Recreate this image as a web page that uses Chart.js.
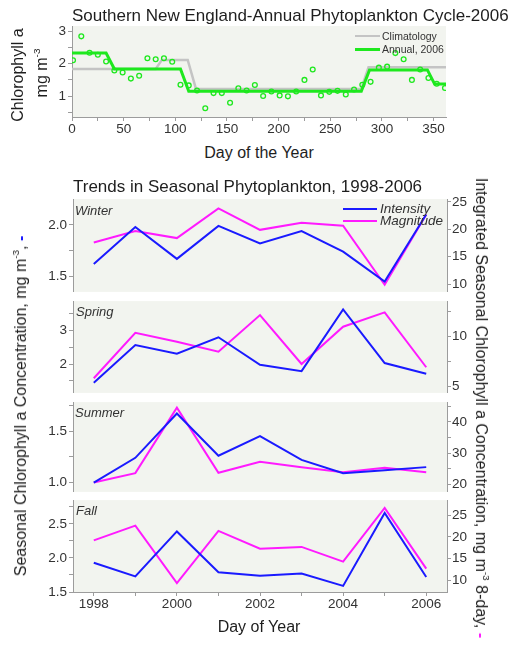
<!DOCTYPE html>
<html>
<head>
<meta charset="utf-8">
<title>Southern New England Phytoplankton</title>
<script src="https://cdn.jsdelivr.net/npm/chart.js@4.4.1/dist/chart.umd.min.js"></script>
<style>
  body { margin: 0; background: #fff; font-family: Arial, "Liberation Sans", sans-serif; color: #1e1e1e; }
  #page { position: relative; width: 518px; height: 647px; overflow: hidden; }
  canvas { position: absolute; left: 0; }
  .txt { position: absolute; white-space: nowrap; line-height: 1; }
  .mid { transform: translate(-50%, -50%); }
  .lft { transform: translateY(-50%); }
  .up { transform: translate(-50%, -50%) rotate(-90deg); }
  .down { transform: translate(-50%, -50%) rotate(90deg); }
  .sup { font-size: 62%; position: relative; top: -0.7em; }
  .swatch { position: absolute; height: 0; }
  .season { font-style: italic; font-size: 13px; color: #333; }
</style>
</head>
<body>
<div id="page">
  <canvas id="annual" width="518" height="140" style="top:0"></canvas>
  <canvas id="winter" width="518" height="113" style="top:189px"></canvas>
  <canvas id="spring" width="518" height="112" style="top:291px"></canvas>
  <canvas id="summer" width="518" height="110" style="top:392px"></canvas>
  <canvas id="fall" width="518" height="125" style="top:490px"></canvas>

  <!-- top panel text -->
  <div class="txt" style="left:72px; top:7px; font-size:17px">Southern New England-Annual Phytoplankton Cycle-2006</div>
  <div class="txt up" style="left:18px; top:75px; font-size:16px">Chlorophyll a</div>
  <div class="txt up" style="left:42px; top:73px; font-size:16px">mg m<span class="sup">-3</span></div>
  <div class="txt mid" style="left:259px; top:153px; font-size:16px">Day of the Year</div>
  <div class="swatch" style="left:355px; top:35px; width:25px; border-top:2.5px solid #c4c4c4"></div>
  <div class="txt lft" style="left:382px; top:36px; font-size:10.5px; color:#333">Climatology</div>
  <div class="swatch" style="left:355px; top:48px; width:25px; border-top:3px solid #1ee81e"></div>
  <div class="txt lft" style="left:382px; top:49px; font-size:10.5px; color:#333">Annual, 2006</div>

  <!-- seasonal panels text -->
  <div class="txt" style="left:73px; top:178px; font-size:17px">Trends in Seasonal Phytoplankton, 1998-2006</div>
  <div class="txt season lft" style="left:75px; top:210px">Winter</div>
  <div class="txt season lft" style="left:76px; top:311px">Spring</div>
  <div class="txt season lft" style="left:75px; top:412px">Summer</div>
  <div class="txt season lft" style="left:76px; top:510px">Fall</div>
  <div class="swatch" style="left:343px; top:208px; width:34px; border-top:2px solid #1a1aff"></div>
  <div class="txt lft" style="left:380px; top:209px; font-size:13.5px; font-style:italic; color:#333">Intensity</div>
  <div class="swatch" style="left:343px; top:220px; width:34px; border-top:2px solid #ff1aff"></div>
  <div class="txt lft" style="left:380px; top:221px; font-size:13.5px; font-style:italic; color:#333">Magnitude</div>
  <div class="txt up" style="left:21px; top:406px; font-size:16px">Seasonal Chlorophyll a Concentration, mg m<span class="sup">-3</span>, <span style="color:#1a1aff; font-weight:bold">-</span></div>
  <div class="txt down" style="left:481px; top:408px; font-size:16px">Integrated Seasonal Chlorophyll a Concentration, mg m<span class="sup">-3</span> 8-day, <span style="color:#ff1aff; font-weight:bold">-</span></div>
  <div class="txt mid" style="left:259px; top:627px; font-size:16px">Day of Year</div>
</div>

<script>
// 2006 annual cycle, 8-day composites
const days = [1, 9, 17, 25, 33, 41, 49, 57, 65, 73, 81, 89, 97, 105, 113, 121, 129, 137, 145, 153, 161, 169, 177,
  185, 193, 201, 209, 217, 225, 233, 241, 249, 257, 265, 273, 281, 289, 297, 305, 313, 321, 329, 337, 345, 353, 361];
const chl2006 = [2.11, 2.85, 2.34, 2.28, 2.07, 1.79, 1.73, 1.54, 1.63, 2.17, 2.14, 2.17, 2.06, 1.35, 1.33, 1.17, 0.62,
  1.09, 1.09, 0.79, 1.24, 1.17, 1.34, 1.00, 1.14, 1.02, 0.99, 1.14, 1.50, 1.82, 1.02, 1.13, 1.16, 1.05, 1.20, 1.35,
  1.44, 1.88, 1.91, 2.33, 2.14, 1.50, 1.82, 1.56, 1.38, 1.25];

// seasonal step curves
const annualDays = [0, 33, 41, 105, 113, 280, 288, 344, 351, 362];
const annualChl = [2.33, 2.33, 1.84, 1.84, 1.15, 1.15, 1.81, 1.81, 1.37, 1.37];
const climDays = [0, 81, 87, 112, 120, 280, 287, 362];
const climChl = [1.84, 1.84, 2.12, 2.12, 1.22, 1.22, 1.89, 1.89];

const dayTicks = [0, 25, 50, 75, 100, 125, 150, 175, 200, 225, 250, 275, 300, 325, 350];
const chlTicks = [0.5, 1, 1.5, 2, 2.5, 3];

// seasonal trends
const years = [1998, 1999, 2000, 2001, 2002, 2003, 2004, 2005, 2006];
const winterIntensity = [1.62, 1.98, 1.67, 1.99, 1.82, 1.94, 1.74, 1.45, 2.10];
const winterMagnitude = [17.6, 19.7, 18.4, 23.8, 19.9, 21.2, 20.65, 9.9, 22.7];
const springIntensity = [1.44, 2.57, 2.31, 2.80, 1.98, 1.79, 3.63, 2.03, 1.71];
const springMagnitude = [5.84, 10.4, 9.5, 8.5, 12.17, 7.27, 11.0, 12.44, 6.94];
const summerIntensity = [1.0, 1.24, 1.67, 1.26, 1.45, 1.22, 1.09, 1.12, 1.15];
const summerMagnitude = [20.6, 23.6, 44.5, 23.7, 27.2, 25.5, 23.9, 25.3, 23.9];
const fallIntensity = [1.93, 1.73, 2.39, 1.79, 1.74, 1.77, 1.59, 2.66, 1.72];
const fallMagnitude = [19.2, 22.6, 9.35, 21.4, 17.3, 17.7, 14.3, 26.7, 12.7];

const GREEN = '#1ee81e';
const BLUE = '#1a1aff';
const MAGENTA = '#ff1aff';
const AXIS = '#9c9c9c';

Chart.defaults.font.family = 'Arial, "Liberation Sans", sans-serif';
Chart.defaults.font.size = 13.5;
Chart.defaults.color = '#333';

const plotBg = {
  id: 'plotBg',
  beforeDraw(chart) {
    const { ctx, chartArea: a } = chart;
    ctx.save();
    ctx.fillStyle = '#f2f4ef';
    ctx.fillRect(a.left, a.top, a.width, a.height);
    ctx.restore();
  }
};

function axis(position, min, max, tickValues, labelled, digits, fitSize) {
  return {
    type: 'linear',
    position,
    min, max,
    afterBuildTicks: s => { s.ticks = tickValues.map(v => ({ value: v })); },
    afterFit: s => {
      // hidden axes keep zero size
      if (s.options.display === false) return;
      if (position === 'bottom') s.height = fitSize; else s.width = fitSize;
    },
    grid: { drawOnChartArea: false, drawTicks: true, tickLength: 4, color: AXIS },
    border: { display: true, color: AXIS },
    ticks: {
      padding: position === 'bottom' ? 0 : (position === 'left' ? 2 : 1),
      autoSkip: false,
      maxRotation: 0,
      callback: v => labelled.includes(v) ? v.toFixed(digits) : ''
    }
  };
}

const xy = (xs, ys) => ys.map((y, i) => ({ x: xs[i], y }));

new Chart(document.getElementById('annual'), {
  type: 'line',
  data: {
    datasets: [
      { label: '8-day', data: xy(days, chl2006), showLine: false, pointRadius: 2.4, pointBorderWidth: 1.3,
        pointBorderColor: GREEN, pointBackgroundColor: 'rgba(0,0,0,0)', order: 0 },
      { label: 'Annual, 2006', data: xy(annualDays, annualChl), borderColor: GREEN, borderWidth: 3,
        pointRadius: 0, order: 1 },
      { label: 'Climatology', data: xy(climDays, climChl), borderColor: '#c4c4c4', borderWidth: 2.5,
        pointRadius: 0, order: 2 }
    ]
  },
  options: {
    responsive: false,
    animation: false,
    layout: { padding: { top: 26, right: 72, bottom: 0, left: 0 } },
    plugins: { legend: { display: false }, tooltip: { enabled: false } },
    scales: {
      x: axis('bottom', 0, 362, dayTicks, [0, 50, 100, 150, 200, 250, 300, 350], 0, 23),
      y: axis('left', 0.35, 3.17, chlTicks, [1, 2, 3], 0, 72)
    }
  },
  plugins: [plotBg]
});

function seasonChart(id, intensity, magnitude, left, right, showYears) {
  const x = axis('bottom', 1997.5, 2006.5, years, [1998, 2000, 2002, 2004, 2006], 0, 23);
  x.display = showYears;
  return new Chart(document.getElementById(id), {
    type: 'line',
    data: {
      datasets: [
        { label: 'Intensity', data: xy(years, intensity), yAxisID: 'y', borderColor: BLUE, borderWidth: 2,
          pointRadius: 0 },
        { label: 'Magnitude', data: xy(years, magnitude), yAxisID: 'y2', borderColor: MAGENTA, borderWidth: 2,
          pointRadius: 0 }
      ]
    },
    options: {
      responsive: false,
      animation: false,
      layout: { padding: { top: 10, right: 0, bottom: showYears ? 0 : 10, left: 0 } },
      plugins: { legend: { display: false }, tooltip: { enabled: false } },
      scales: {
        x,
        y: axis('left', left.min, left.max, left.ticks, left.labels, left.digits, 73),
        y2: axis('right', right.min, right.max, right.ticks, right.labels, 0, 71)
      }
    },
    plugins: [plotBg]
  });
}

seasonChart('winter', winterIntensity, winterMagnitude,
  { min: 1.35, max: 2.25, ticks: [1.5, 1.75, 2.0], labels: [1.5, 2.0], digits: 1 },
  { min: 8.6, max: 25.5, ticks: [10, 15, 20, 25], labels: [10, 15, 20, 25] }, false);

seasonChart('spring', springIntensity, springMagnitude,
  { min: 1.14, max: 3.88, ticks: [1.5, 2, 2.5, 3, 3.5], labels: [2, 3], digits: 0 },
  { min: 4.37, max: 13.57, ticks: [5, 7.5, 10, 12.5], labels: [5, 10] }, false);

seasonChart('summer', summerIntensity, summerMagnitude,
  { min: 0.91, max: 1.78, ticks: [1.0, 1.25, 1.5, 1.75], labels: [1.0, 1.5], digits: 1 },
  { min: 17.6, max: 46.3, ticks: [20, 25, 30, 35, 40, 45], labels: [20, 30, 40] }, false);

seasonChart('fall', fallIntensity, fallMagnitude,
  { min: 1.5, max: 2.85, ticks: [1.5, 1.75, 2.0, 2.25, 2.5, 2.75], labels: [1.5, 2.0, 2.5], digits: 1 },
  { min: 7.3, max: 28.5, ticks: [10, 15, 20, 25], labels: [10, 15, 20, 25] }, true);
</script>
</body>
</html>
